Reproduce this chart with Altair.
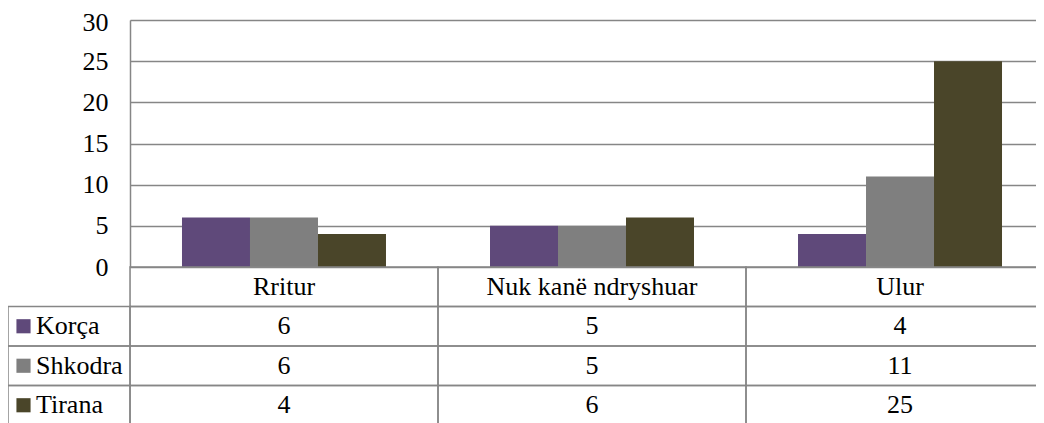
import altair as alt
import pandas as pd

categories = ["Rritur", "Nuk kanë ndryshuar", "Ulur"]
series = ["Korça", "Shkodra", "Tirana"]
korca = [6, 5, 4]
shkodra = [6, 5, 11]
tirana = [4, 6, 25]
colors = ["#5F497A", "#7F7F7F", "#4A4529"]
y_ticks = [0, 5, 10, 15, 20, 25, 30]

records = []
for s, vals in zip(series, [korca, shkodra, tirana]):
    for c, v in zip(categories, vals):
        records.append({"Category": c, "Series": s, "Row": s, "Value": v})
df = pd.DataFrame(records)

header_row = " "
row_order = [header_row] + series
cells = pd.DataFrame([{"Category": c, "Row": r} for r in row_order for c in categories])
header = pd.DataFrame({"Category": categories, "Row": [header_row] * len(categories)})
legend_rows = pd.DataFrame({"Series": series, "Row": series})

W_FULL = 924      # full plot width (right part runs past the picture edge)
W_VIEW = 906      # visible part
H_PLOT = 247
ROW_H = 39.5
H_TABLE = ROW_H * len(row_order)
H_VIEW = 403
LEFT_COL = 122
GRID = "#868686"
FONT = "Liberation Serif"
FS = 26

color_scale = alt.Scale(domain=series, range=colors)

bars = alt.Chart(df).mark_bar().encode(
    x=alt.X("Category:N", sort=categories, axis=None,
            scale=alt.Scale(range=[0, W_FULL], paddingInner=0.3377, paddingOuter=0.1688)),
    xOffset=alt.XOffset("Series:N", sort=series,
                        scale=alt.Scale(paddingInner=0, paddingOuter=0)),
    y=alt.Y("Value:Q", scale=alt.Scale(domain=[0, 30], nice=False, range=[H_PLOT, 0]),
            axis=alt.Axis(values=y_ticks, grid=True, gridColor=GRID, gridWidth=1.5,
                          domainColor=GRID, domainWidth=1.5, ticks=False,
                          labelFont=FONT, labelFontSize=FS, labelColor="black",
                          labelPadding=22, title=None,
                          labelOffset={"condition": {"test": "datum.value == 30", "value": 2},
                                       "value": 0})),
    color=alt.Color("Series:N", scale=color_scale, legend=None),
)

tx = alt.X("Category:N", sort=categories, axis=None,
           scale=alt.Scale(range=[0, W_FULL], paddingInner=0, paddingOuter=0))
ty = alt.Y("Row:N", sort=row_order, axis=None,
           scale=alt.Scale(domain=row_order, range=[H_PLOT, H_PLOT + H_TABLE],
                           paddingInner=0, paddingOuter=0))

grid_cells = alt.Chart(cells).mark_rect(fillOpacity=0, stroke=GRID, strokeWidth=1.5).encode(
    x=tx, y=ty)
left_cells = alt.Chart(legend_rows).mark_rect(fillOpacity=0, stroke=GRID, strokeWidth=1.5).encode(
    x=alt.value(-LEFT_COL), x2=alt.value(0), y=ty)
symbols = alt.Chart(legend_rows).mark_square(size=200, opacity=1).encode(
    x=alt.value(-LEFT_COL + 15.5), y=ty,
    color=alt.Color("Series:N", scale=color_scale, legend=None))
row_labels = alt.Chart(legend_rows).mark_text(align="left", font=FONT, fontSize=FS, color="black").encode(
    x=alt.value(-LEFT_COL + 28), y=ty, text="Row:N")
header_text = alt.Chart(header).mark_text(font=FONT, fontSize=FS, color="black").encode(
    x=tx, y=ty, text="Category:N")
values_text = alt.Chart(df).mark_text(font=FONT, fontSize=FS, color="black").encode(
    x=tx, y=ty, text="Value:Q")

table = alt.layer(grid_cells, left_cells, symbols, row_labels, header_text, values_text).resolve_scale(
    color="shared")

chart = alt.layer(bars, table).resolve_scale(
    x="independent", y="independent", color="shared"
).properties(
    width=W_VIEW, height=H_VIEW,
    autosize=alt.AutoSizeParams(type="none"),
    padding={"left": LEFT_COL, "top": 12, "right": 0, "bottom": 0},
).configure_view(stroke=None).configure(background="white")

chart.save("out.html", embed_options={"renderer": "svg", "actions": False})
